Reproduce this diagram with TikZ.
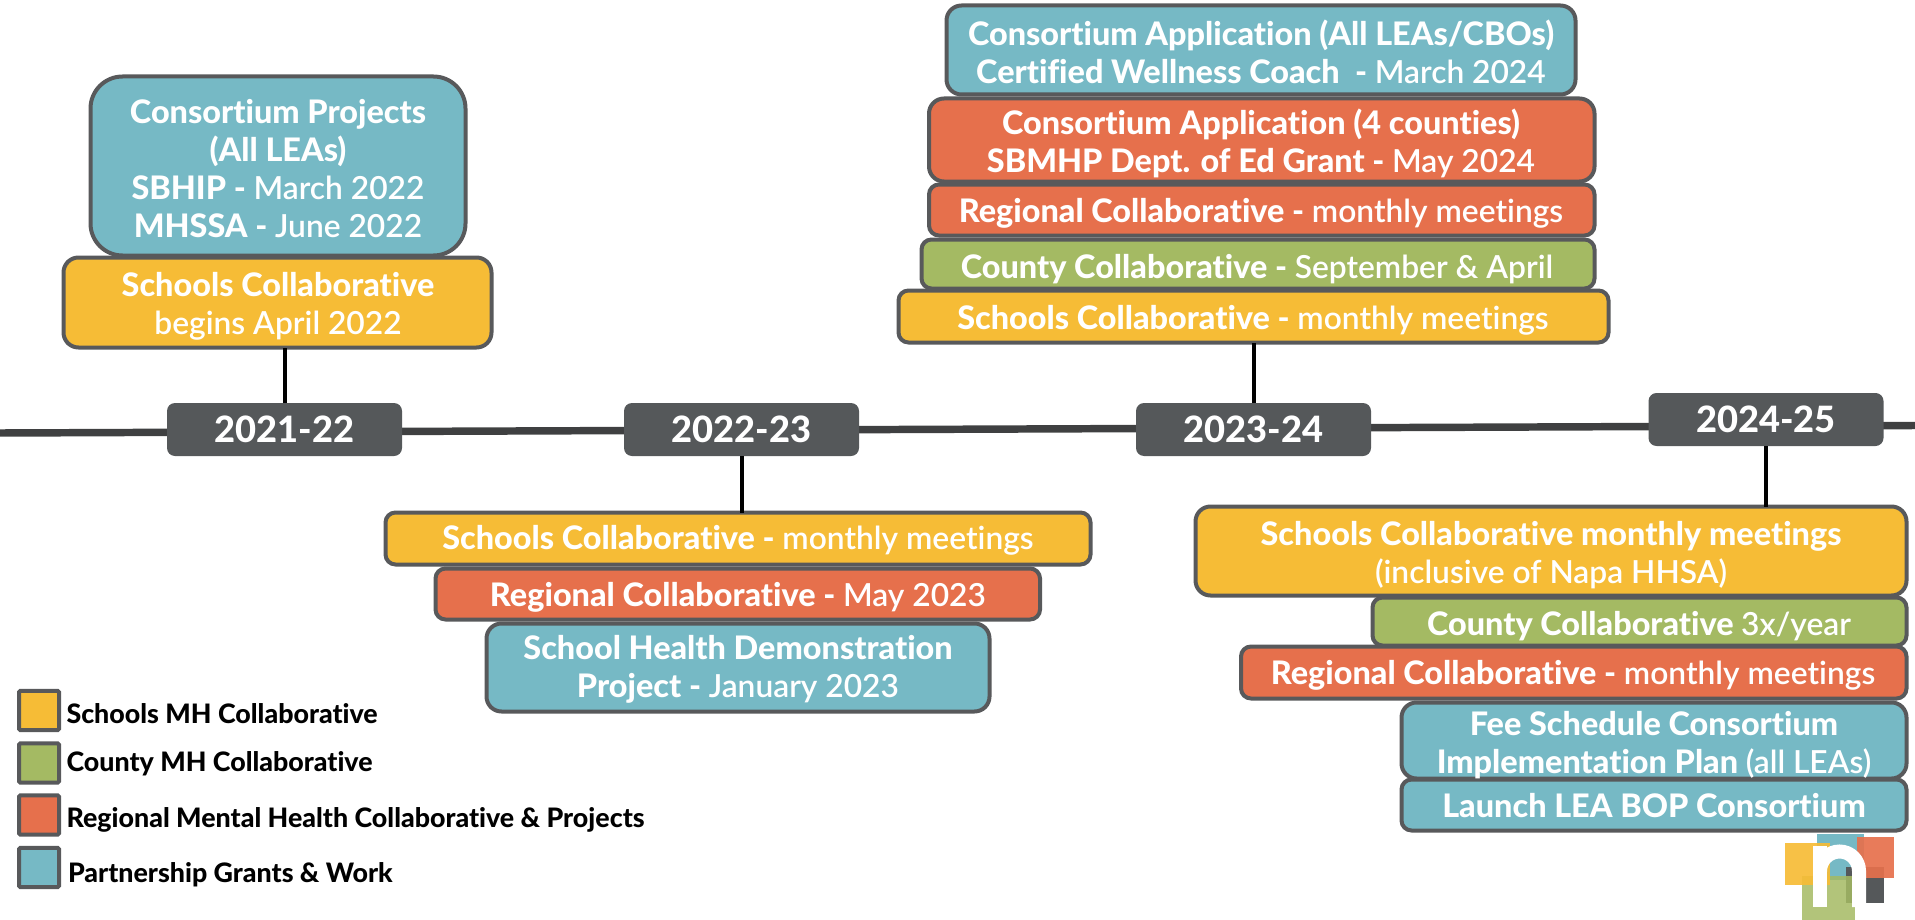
\documentclass[tikz,border=0pt]{standalone}
\usepackage{fontspec}
\setmainfont{Lato}[BoldFont={Lato Heavy},RawFeature={-liga}]
\newfontfamily\lightf{Lato Light}[RawFeature={-liga}]
\newcommand\lt[1]{{\lightf\fontsize{23.8}{28.5}\selectfont #1}}
\definecolor{cteal}{HTML}{76B9C5}
\definecolor{corange}{HTML}{E6704C}
\definecolor{cgreen}{HTML}{A4BA63}
\definecolor{cyellow}{HTML}{F6BC36}
\definecolor{cedge}{HTML}{58595B}
\definecolor{cyear}{HTML}{55585A}
\definecolor{cline}{HTML}{3F4041}
\tikzset{
 cardbox/.style={draw=cedge,line width=3pt,inner sep=0pt,outer sep=0pt},
 cardtext/.style={text=white,inner sep=0pt,outer sep=0pt,align=center,font=\fontsize{24.3}{28.5}\selectfont\bfseries,
   execute at begin node=\strut,execute at end node=\strut},
 yearbox/.style={fill=cyear,text=white,inner sep=0pt,outer sep=0pt,rounded corners=6pt,minimum width=176.25pt,minimum height=39.75pt,font=\fontsize{27.2}{30}\selectfont\bfseries},
 stem/.style={draw=black,line width=3pt},
 timeline/.style={draw=cline,line width=5.6pt},
 keybox/.style={draw=cedge,line width=3pt,inner sep=0pt,outer sep=0pt,rounded corners=1pt,minimum width=30pt,minimum height=29.5pt},
 keytext/.style={text=black,inner sep=0pt,outer sep=0pt,anchor=base west,font=\fontsize{20.1}{22}\selectfont\bfseries},
}
\newcommand\card[7]{%
 \pgfmathsetmacro\cdw{(#5-#3-3)*.75}\pgfmathsetmacro\cdh{(#6-#4-3)*.75}\pgfmathsetmacro\cdr{#7*.75}%
 \node[cardbox,fill=#2,minimum width=\cdw pt,minimum height=\cdh pt,rounded corners=\cdr pt] (#1) at ({(#3+#5)/2},{(#4+#6)/2}) {};}
\newcommand\txt[4]{\node[cardtext] (#1) at (#2,#3) {#4};}
\begin{document}
\begin{tikzpicture}[x=.75pt,y=-.75pt]
\useasboundingbox (0,0) rectangle (1915,920);
% timeline
\coordinate (tlL) at (0,433);
\coordinate (tlR) at (1915,425.5);
\draw[timeline] (tlL) -- (tlR);
% years
\node[yearbox] (y21) at (284.5,429.5) {\raisebox{-.75pt}{2021-22}};
\node[yearbox] (y22) at (741.5,429.5) {\raisebox{-.75pt}{2022-23}};
\node[yearbox] (y23) at (1253.5,429.5) {\raisebox{-.75pt}{2023-24}};
\node[yearbox] (y24) at (1766,419.5) {\raisebox{-.75pt}{2024-25}};
% 2021-22
\card{a1}{cteal}{89}{75}{467}{257}{32}
\card{a2}{cyellow}{62}{256}{493}{349}{15}
\txt{a1t}{278}{174}{Consortium Projects\\(All LEAs)\\SBHIP - \lt{March 2022}\\MHSSA - \lt{June 2022}}
\txt{a2t}{278}{309.4}{Schools Collaborative\\\lt{begins April 2022}}
\draw[stem] (y21.north) -- (y21.north |- a2.south);
% 2022-23
\card{b1}{cyellow}{384}{511}{1092}{566}{10}
\card{b2}{corange}{434}{567}{1041.5}{621}{10}
\card{b3}{cteal}{485}{622}{991}{713}{15}
\txt{b1t}{738}{541.4}{Schools Collaborative - \lt{monthly meetings}}
\txt{b2t}{738}{598.4}{Regional Collaborative - \lt{May 2023}}
\txt{b3t}{738}{672.4}{School Health Demonstration\\Project - \lt{January 2023}}
\draw[stem] (y22.south) -- (y22.south |- b1.north);
% 2023-24
\card{c1}{cteal}{945}{4}{1577}{96}{15}
\card{c2}{corange}{927.5}{97}{1596}{183}{15}
\card{c3}{corange}{927.5}{183}{1596}{237}{10}
\card{c4}{cgreen}{920}{238}{1596}{290}{10}
\card{c5}{cyellow}{897}{289}{1610}{344}{10}
\txt{c1t}{1261}{57.4}{Consortium Application (All LEAs/CBOs)\\Certified Wellness Coach\ \ - \lt{March 2024}}
\txt{c2t}{1261}{146.4}{Consortium Application (4 counties)\\SBMHP Dept. of Ed Grant - \lt{May 2024}}
\txt{c3t}{1261}{214.4}{Regional Collaborative - \lt{monthly meetings}}
\txt{c4t}{1257}{270.4}{County Collaborative - \lt{September \& April}}
\txt{c5t}{1253}{321.4}{Schools Collaborative - \lt{monthly meetings}}
\draw[stem] (y23.north) -- (y23.north |- c5.south);
% 2024-25
\card{d1}{cyellow}{1194}{505}{1908}{597}{15}
\card{d2}{cgreen}{1371}{596}{1908}{647}{10}
\card{d3}{corange}{1239.5}{645}{1908}{700}{10}
\card{d4}{cteal}{1400}{701}{1908}{780}{15}
\card{d5}{cteal}{1400}{778}{1908}{832}{10}
\txt{d1t}{1551}{558.4}{Schools Collaborative monthly meetings\\\lt{(inclusive of Napa HHSA)}}
\txt{d2t}{1639}{627.4}{County Collaborative \lt{3x/year}}
\txt{d3t}{1573}{676.4}{Regional Collaborative - \lt{monthly meetings}}
\txt{d4t}{1654}{748}{Fee Schedule Consortium\\Implementation Plan \lt{(all LEAs)}}
\txt{d5t}{1654}{809.4}{Launch LEA BOP Consortium}
\draw[stem] (y24.south) -- (y24.south |- d1.north);
% legend
\node[keybox,fill=cyellow] (k1) at (39,710.5) {};
\node[keybox,fill=cgreen] (k2) at (39,763) {};
\node[keybox,fill=corange] (k3) at (39,815) {};
\node[keybox,fill=cteal] (k4) at (39,867.5) {};
\node[keytext] (k1t) at (66.5,723) {Schools MH Collaborative};
\node[keytext] (k2t) at (66.5,771) {County MH Collaborative};
\node[keytext] (k3t) at (66.5,827) {Regional Mental Health Collaborative \& Projects};
\node[keytext] (k4t) at (68,882) {Partnership Grants \& Work};
% logo
\fill[cteal] (1817,834) rectangle (1864,880);
\fill[cyear] (1846,867) rectangle (1884,903);
\fill[cgreen,opacity=.85] (1802,876) rectangle (1855,920);
\fill[cyellow,opacity=.92] (1785,843) rectangle (1830,885);
\fill[corange,opacity=.92] (1857,837) rectangle (1894,878);
\draw[white,line width=10.5pt] (1819.5,846) -- (1819.5,907);
\draw[white,line width=10.5pt] (1859,907) -- (1859,871) arc[start angle=0,end angle=180,x radius=19.5,y radius=-19.5];
\end{tikzpicture}
\end{document}
